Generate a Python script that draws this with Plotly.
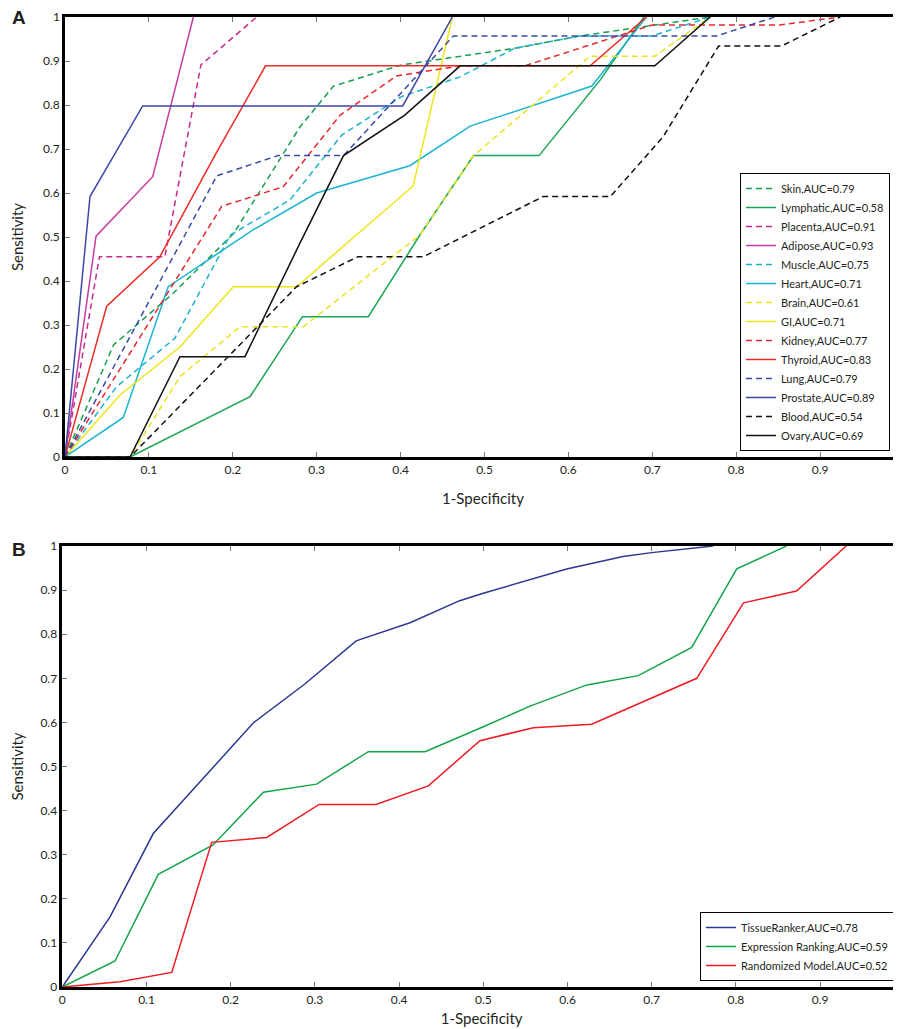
import plotly.graph_objects as go

# ---------------- Panel A data ----------------
skin_x = [0, 0.058, 0.129, 0.201, 0.28, 0.32, 0.401, 0.536, 0.614, 0.70, 0.769]
skin_y = [0, 0.255, 0.372, 0.508, 0.75, 0.843, 0.891, 0.929, 0.957, 0.98, 1.0]

lymph_x = [0, 0.0775, 0.2205, 0.283, 0.3615, 0.423, 0.487, 0.565, 0.638, 0.69]
lymph_y = [0, 0, 0.137, 0.319, 0.319, 0.5045, 0.685, 0.685, 0.857, 1.0]

placenta_x = [0, 0.041, 0.119, 0.162, 0.2285]
placenta_y = [0, 0.455, 0.455, 0.891, 1.0]

adipose_x = [0, 0.037, 0.1045, 0.153]
adipose_y = [0, 0.502, 0.637, 1.0]

muscle_x = [0, 0.0616, 0.131, 0.197, 0.268, 0.33, 0.401, 0.471, 0.536, 0.614, 0.70, 0.769]
muscle_y = [0, 0.16, 0.27, 0.5045, 0.584, 0.732, 0.819, 0.864, 0.929, 0.957, 0.957, 1.0]

heart_x = [0, 0.0695, 0.123, 0.224, 0.30, 0.411, 0.483, 0.628, 0.693]
heart_y = [0, 0.09, 0.387, 0.516, 0.60, 0.662, 0.752, 0.843, 1.0]

brain_x = [0, 0.0775, 0.137, 0.2086, 0.284, 0.423, 0.487, 0.626, 0.703, 0.769]
brain_y = [0, 0, 0.1825, 0.296, 0.296, 0.5045, 0.685, 0.911, 0.911, 1.0]

gi_x = [0, 0.0656, 0.137, 0.2006, 0.276, 0.415, 0.4617]
gi_y = [0, 0.141, 0.25, 0.387, 0.387, 0.616, 1.0]

kidney_x = [0, 0.187, 0.26, 0.328, 0.395, 0.471, 0.548, 0.638, 0.70, 0.852, 0.924]
kidney_y = [0, 0.570, 0.614, 0.777, 0.866, 0.889, 0.889, 0.945, 0.982, 0.982, 1.0]

thyroid_x = [0, 0.0497, 0.113, 0.18, 0.239, 0.626, 0.693]
thyroid_y = [0, 0.343, 0.455, 0.69, 0.889, 0.889, 1.0]

lung_x = [0, 0.181, 0.254, 0.332, 0.463, 0.777, 0.846]
lung_y = [0, 0.639, 0.685, 0.685, 0.957, 0.957, 1.0]

prostate_x = [0, 0.0298, 0.0926, 0.4025, 0.4617]
prostate_y = [0, 0.592, 0.798, 0.798, 1.0]

blood_x = [0, 0.0775, 0.276, 0.349, 0.427, 0.57, 0.65, 0.713, 0.779, 0.854, 0.924]
blood_y = [0, 0, 0.387, 0.455, 0.455, 0.592, 0.592, 0.728, 0.934, 0.934, 1.0]

ovary_x = [0, 0.0775, 0.137, 0.2145, 0.28, 0.332, 0.405, 0.471, 0.703, 0.769]
ovary_y = [0, 0, 0.228, 0.228, 0.486, 0.685, 0.777, 0.889, 0.889, 1.0]

# ---------------- Panel B data ----------------
tr_x = [0, 0.0567, 0.108, 0.187, 0.227, 0.288, 0.349, 0.413, 0.472, 0.5, 0.599, 0.666, 0.700, 0.773]
tr_y = [0, 0.159, 0.348, 0.515, 0.599, 0.687, 0.785, 0.826, 0.876, 0.893, 0.948, 0.976, 0.985, 1.0]

er_x = [0, 0.0626, 0.114, 0.179, 0.2387, 0.302, 0.3634, 0.4308, 0.5, 0.5555, 0.623, 0.684, 0.7475, 0.801, 0.860]
er_y = [0, 0.059, 0.2555, 0.322, 0.4415, 0.460, 0.5336, 0.5336, 0.590, 0.637, 0.685, 0.706, 0.770, 0.948, 1.0]

rm_x = [0, 0.0686, 0.130, 0.1774, 0.2428, 0.305, 0.3726, 0.4347, 0.496, 0.5594, 0.6287, 0.7535, 0.809, 0.872, 0.931]
rm_y = [0, 0.012, 0.033, 0.328, 0.339, 0.414, 0.414, 0.456, 0.5585, 0.588, 0.596, 0.700, 0.871, 0.898, 1.0]

x_ticks = [0, 0.1, 0.2, 0.3, 0.4, 0.5, 0.6, 0.7, 0.8, 0.9]

# ---------------- Series definitions ----------------
panel_a = [
    ("Skin,AUC=0.79", skin_x, skin_y, "#16a04e", True),
    ("Lymphatic,AUC=0.58", lymph_x, lymph_y, "#18a556", False),
    ("Placenta,AUC=0.91", placenta_x, placenta_y, "#c42a8e", True),
    ("Adipose,AUC=0.93", adipose_x, adipose_y, "#c83ca2", False),
    ("Muscle,AUC=0.75", muscle_x, muscle_y, "#1cb2cc", True),
    ("Heart,AUC=0.71", heart_x, heart_y, "#1cb4d2", False),
    ("Brain,AUC=0.61", brain_x, brain_y, "#e9e41e", True),
    ("GI,AUC=0.71", gi_x, gi_y, "#eee41a", False),
    ("Kidney,AUC=0.77", kidney_x, kidney_y, "#e8282c", True),
    ("Thyroid,AUC=0.83", thyroid_x, thyroid_y, "#ee2a24", False),
    ("Lung,AUC=0.79", lung_x, lung_y, "#3a48a6", True),
    ("Prostate,AUC=0.89", prostate_x, prostate_y, "#3a48a6", False),
    ("Blood,AUC=0.54", blood_x, blood_y, "#111111", True),
    ("Ovary,AUC=0.69", ovary_x, ovary_y, "#111111", False),
]

panel_b = [
    ("TissueRanker,AUC=0.78", tr_x, tr_y, "#2b3990"),
    ("Expression Ranking,AUC=0.59", er_x, er_y, "#12a54a"),
    ("Randomized Model.AUC=0.52", rm_x, rm_y, "#ed1c24"),
]

FONT = "Lato"
TXT = "#231f20"
fig = go.Figure()

for name, xs, ys, col, dashed in panel_a:
    fig.add_trace(go.Scatter(
        x=xs, y=ys, mode="lines", name=name,
        line=dict(color=col, width=1.5, dash="6px,4px" if dashed else "solid"),
        xaxis="x", yaxis="y", legend="legend",
    ))

for name, xs, ys, col in panel_b:
    fig.add_trace(go.Scatter(
        x=xs, y=ys, mode="lines", name=name,
        line=dict(color=col, width=1.5),
        xaxis="x2", yaxis="y2", legend="legend2",
    ))

# page is offset by the 8px default body margin -> figure coords = page - 8
OFF = 8
W, H = 901 - OFF, 1029 - OFF


def px_x(p):
    return (p - OFF) / W


def px_y(p):
    return 1 - (p - OFF) / H


def axis_common():
    return dict(
        showline=True, linecolor="black", linewidth=2.5, mirror="allticks",
        ticks="inside", ticklen=5, tickcolor="#777777", tickwidth=1,
        showgrid=False, zeroline=False,
        tickfont=dict(family=FONT, size=12, color=TXT),
        automargin=False,
    )


title_font = dict(family=FONT, size=15, color=TXT)

xa = axis_common()
xa.update(domain=[px_x(65), 1.0], range=[0, (901 - 65) / 839.0], anchor="y",
          tickvals=x_ticks,
          title=dict(text="1-Specificity", font=title_font, standoff=18))
ya = axis_common()
ya.update(domain=[px_y(457), px_y(17)], range=[0, 1], anchor="x",
          tick0=0, dtick=0.1,
          title=dict(text="Sensitivity", font=title_font, standoff=17))

xb = axis_common()
xb.update(domain=[px_x(62.3), 1.0], range=[0, (901 - 62.3) / 842.0], anchor="y2",
          tickvals=x_ticks,
          title=dict(text="1-Specificity", font=title_font, standoff=8))
yb = axis_common()
yb.update(domain=[px_y(987), px_y(546)], range=[0, 1], anchor="x2",
          tick0=0, dtick=0.1,
          title=dict(text="Sensitivity", font=title_font, standoff=17))

fig.update_layout(
    width=W, height=H,
    margin=dict(l=0, r=0, t=0, b=0),
    paper_bgcolor="white", plot_bgcolor="white",
    font=dict(family=FONT, color=TXT),
    xaxis=xa, yaxis=ya, xaxis2=xb, yaxis2=yb,
    legend=dict(
        x=px_x(890), xanchor="right", y=px_y(451), yanchor="bottom",
        bgcolor="white", bordercolor="black", borderwidth=1,
        font=dict(family=FONT, size=11, color=TXT),
        itemwidth=30, tracegroupgap=0,
    ),
    legend2=dict(
        x=px_x(894), xanchor="right", y=px_y(981), yanchor="bottom",
        bgcolor="white", bordercolor="black", borderwidth=1,
        font=dict(family=FONT, size=11, color=TXT),
        itemwidth=30, tracegroupgap=0,
    ),
    showlegend=True,
    annotations=[
        dict(text="<b>A</b>", x=px_x(18.5), y=px_y(18), xref="paper", yref="paper",
             xanchor="center", yanchor="middle",
             showarrow=False, font=dict(family="Liberation Sans", size=19, color=TXT)),
        dict(text="<b>B</b>", x=px_x(18.5), y=px_y(549), xref="paper", yref="paper",
             xanchor="center", yanchor="middle",
             showarrow=False, font=dict(family="Liberation Sans", size=19, color=TXT)),
    ],
)

fig.write_html("out.html")
